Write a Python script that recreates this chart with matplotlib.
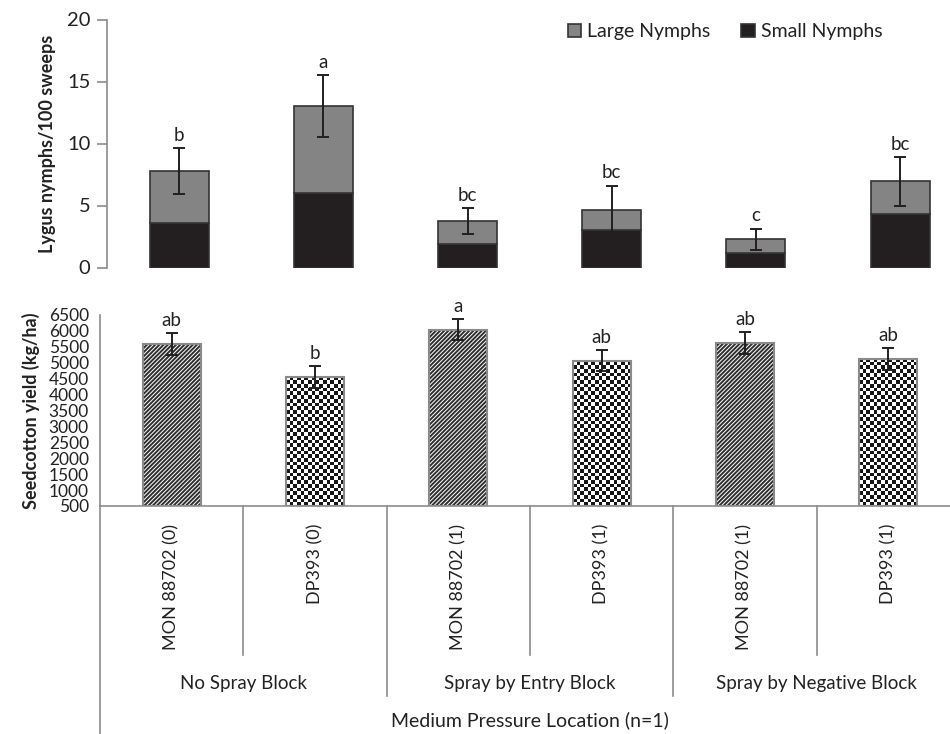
import numpy as np
import matplotlib
matplotlib.use("Agg")
import matplotlib.pyplot as plt
from matplotlib.transforms import blended_transform_factory
from matplotlib.colors import ListedColormap

# ---- data ----
cultivars = ["MON 88702 (0)", "DP393 (0)", "MON 88702 (1)", "DP393 (1)", "MON 88702 (1)", "DP393 (1)"]
blocks = ["No Spray Block", "Spray by Entry Block", "Spray by Negative Block"]
location = "Medium Pressure Location (n=1)"

small_nymphs = [3.6, 6.0, 1.9, 3.0, 1.15, 4.3]
large_nymphs = [4.2, 7.0, 1.85, 1.65, 1.13, 2.65]
nymph_err = [1.85, 2.5, 1.05, 1.95, 0.86, 1.95]
nymph_letters = ["b", "a", "bc", "bc", "c", "bc"]

yield_vals = [5590, 4550, 6040, 5070, 5620, 5110]
yield_err = [340, 350, 330, 340, 340, 350]
yield_letters = ["ab", "b", "a", "ab", "ab", "ab"]
yield_ticks = list(range(500, 7000, 500))

plt.rcParams["font.family"] = ["Lato", "DejaVu Sans"]
TXT = "#222222"
AX = "#8c8c8c"
DARK = "#231f20"
GRAY = "#848484"

fig = plt.figure(figsize=(9.5, 7.34), dpi=100)
W, H = 950, 734

def axes_px(x0, y0, x1, y1):
    return fig.add_axes([x0 / W, 1 - y1 / H, (x1 - x0) / W, (y1 - y0) / H])

x = np.arange(len(cultivars))

# ---- top panel: nymph counts ----
ax1 = axes_px(107, 19.5, 950, 267.5)
bw1 = 0.41
ax1.bar(x, small_nymphs, bw1, color=DARK, edgecolor="#333333", linewidth=1.2, label="Small Nymphs", zorder=2)
totals = np.array(small_nymphs) + np.array(large_nymphs)
ax1.bar(x, large_nymphs, bw1, bottom=small_nymphs, color=GRAY, edgecolor="#333333", linewidth=1.2,
        label="Large Nymphs", zorder=2)
ax1.errorbar(x, totals, yerr=nymph_err, fmt="none", ecolor=DARK, elinewidth=1.4, capsize=4, capthick=1.4, zorder=3)
for xi, t, e, lab in zip(x, totals, nymph_err, nymph_letters):
    ax1.annotate(lab, (xi, t + e), xytext=(0, 3), textcoords="offset points", ha="center", va="bottom",
                 fontsize=13.5, color=TXT)
ax1.set_xlim(-0.5, -0.5 + 843 / 144.2)
ax1.set_ylim(0, 20)
ax1.set_yticks([0, 5, 10, 15, 20])
ax1.set_xticks([])
for s in ["top", "right", "bottom"]:
    ax1.spines[s].set_visible(False)
ax1.spines["left"].set_color(AX)
ax1.spines["left"].set_linewidth(1.2)
ax1.tick_params(axis="y", length=7, width=1.2, color=AX, labelsize=14.5, labelcolor=TXT, pad=5)
ax1.set_ylabel("Lygus nymphs/100 sweeps", fontsize=13, fontweight="bold", color=TXT, labelpad=8)
h, l = ax1.get_legend_handles_labels()
ax1.legend(h[::-1], l[::-1], loc="upper right", bbox_to_anchor=(900 / W, 1 - 6 / H),
           bbox_transform=fig.transFigure, ncol=2, frameon=False, fontsize=14,
           handlelength=0.7, handleheight=0.7, handletextpad=0.3, columnspacing=1.6,
           labelcolor=TXT)

# ---- bottom panel: seedcotton yield ----
ax2 = axes_px(100, 315, 950, 506)
bw2 = 0.405
ax2.set_xlim(-0.5, -0.5 + 850 / 143.3)
ax2.set_ylim(500, 6500)
base = 500
plt.rcParams["hatch.linewidth"] = 1.4
checker_cmap = ListedColormap(["white", "#161616"])
cell_y = 116.0
for i, (v, e) in enumerate(zip(yield_vals, yield_err)):
    x0, x1 = i - bw2 / 2, i + bw2 / 2
    if i % 2 == 0:
        ax2.bar(i, v - base, bw2, bottom=base, color="white", edgecolor="#2e2e2e", hatch="////////",
                linewidth=0, zorder=2)
    else:
        frame = ax2.bar(i, v - base, bw2, bottom=base, color="white", linewidth=0, zorder=2)[0]
        nrow = int(np.ceil((v - base) / cell_y))
        ncol = 16
        board = (np.add.outer(np.arange(nrow), np.arange(ncol)) % 2).astype(float)
        im = ax2.imshow(board, cmap=checker_cmap, interpolation="nearest", aspect="auto", origin="lower",
                        extent=[x0, x1, base, base + nrow * cell_y], zorder=2.1)
        im.set_clip_path(frame)
    ax2.bar(i, v - base, bw2, bottom=base, fill=False, edgecolor="#8a8a8a", linewidth=1.5, zorder=2.5)
ax2.errorbar(x, yield_vals, yerr=yield_err, fmt="none", ecolor=DARK, elinewidth=1.4, capsize=4,
             capthick=1.4, zorder=3)
for xi, v, e, lab in zip(x, yield_vals, yield_err, yield_letters):
    ax2.annotate(lab, (xi, v + e), xytext=(0, 3), textcoords="offset points", ha="center", va="bottom",
                 fontsize=13.5, color=TXT)
ax2.set_yticks(yield_ticks)
ax2.tick_params(axis="y", length=0, labelsize=12.5, labelcolor=TXT, pad=8)
ax2.set_xticks(x)
ax2.set_xticklabels(cultivars, rotation=90, fontsize=13, color=TXT)
ax2.tick_params(axis="x", length=0, pad=13)
for s in ["top", "right"]:
    ax2.spines[s].set_visible(False)
for s in ["left", "bottom"]:
    ax2.spines[s].set_color(AX)
    ax2.spines[s].set_linewidth(1.2)
ax2.set_ylabel("Seedcotton yield (kg/ha)", fontsize=13, fontweight="bold", color=TXT, labelpad=6)

# category separators and hierarchical labels beneath the axis
tr = blended_transform_factory(ax2.transData, fig.transFigure)
def fy(py):
    return 1 - py / H
for xs in [0.5, 2.5, 4.5]:
    ax2.plot([xs, xs], [fy(506), fy(655)], transform=tr, color=AX, lw=1.2, clip_on=False)
for xs in [1.5, 3.5]:
    ax2.plot([xs, xs], [fy(506), fy(696)], transform=tr, color=AX, lw=1.2, clip_on=False)
ax2.plot([-0.5, -0.5], [fy(506), fy(734)], transform=tr, color=AX, lw=1.2, clip_on=False)
for gi, name in enumerate(blocks):
    ax2.text(2 * gi + 0.5, fy(683), name, transform=tr, ha="center", va="center", fontsize=13.5, color=TXT)
ax2.text(2.5, fy(720), location, transform=tr, ha="center", va="center", fontsize=14, color=TXT)

fig.savefig("out.png", dpi=100, facecolor="white")
